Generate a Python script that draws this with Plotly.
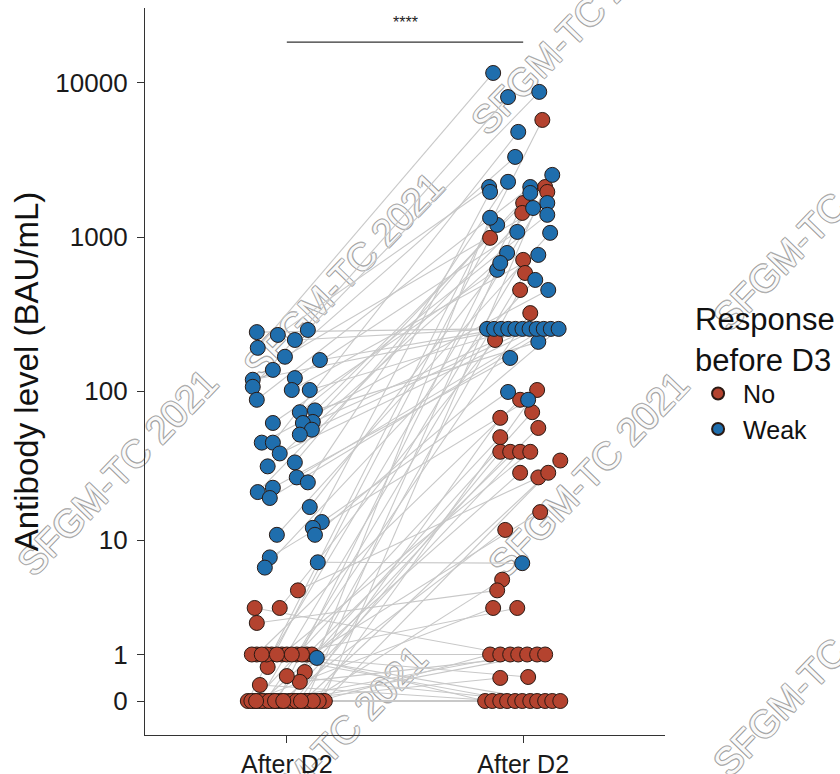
import plotly.graph_objects as go

# ---------------- data ----------------
categories = ["After D2", "After D2"]
cat_pos = [1, 2]
tick_values = [0, 1, 10, 100, 1000, 10000]
tick_labels = ["0", "1", "10", "100", "1000", "10000"]

# "Weak" responders before D3 (each index = one patient, paired)
weak_before = [251, 243, 233, 216, 192, 168, 160, 138, 122, 119, 107, 102, 102, 88, 75,
               73, 63, 62, 62, 56, 52, 46, 46, 39, 34, 32, 27, 25, 23, 21.5, 19.6, 17,
               13.4, 12.2, 10.9, 10.9, 7.5, 6.9, 6.3, 0.9]
weak_before_jit = [0.089, -0.127, -0.038, 0.034, -0.123, -0.008, 0.140, -0.059, 0.034,
                   -0.144, -0.144, 0.021, 0.097, -0.127, 0.119, 0.055, 0.110, 0.068,
                   -0.059, 0.106, 0.055, -0.106, -0.059, -0.030, 0.034, -0.081, 0.042,
                   0.089, -0.059, -0.123, -0.072, 0.097, 0.148, 0.110, 0.119, -0.042,
                   -0.072, 0.131, -0.093, 0.127]
weak_after = [8750, 255, 2120, 255, 11600, 1670, 255, 3320, 1085, 255, 8100, 770, 255,
              2120, 210, 1400, 255, 2540, 616, 255, 1940, 456, 4820, 255, 1205, 793, 255,
              2290, 165, 1550, 255, 683, 99, 1970, 255, 1070, 88, 6.8, 530, 1340]
weak_after_jit = [0.068, -0.153, -0.144, -0.123, -0.127, 0.102, -0.093, -0.034, -0.025,
                  -0.063, -0.064, 0.064, -0.033, 0.030, 0.064, 0.102, -0.003, 0.123,
                  -0.110, 0.027, 0.030, 0.106, -0.021, 0.057, -0.110, -0.068, 0.087,
                  -0.064, -0.055, 0.042, 0.117, -0.097, -0.064, -0.140, 0.150, 0.114,
                  0.021, -0.004, 0.051, -0.140]

# "No" responders before D3
no_before = [0, 0, 1, 0, 0, 0.66, 0, 1, 0, 0, 3.0, 0, 1, 0, 0, 1, 0, 0, 0.54, 0, 1, 0, 0,
             4.2, 0, 1, 0, 0, 2.2, 0, 1, 0, 1, 3.0, 0, 1, 0, 0.33, 0, 1, 1, 0, 0.27, 0, 1,
             0, 0.45, 0, 1, 0, 0]
no_before_jit = [-0.165, 0.150, -0.064, -0.040, 0.080, -0.081, -0.120, 0.042, 0.010,
                 -0.090, -0.030, 0.120, -0.127, -0.060, 0.050, 0.085, -0.140, 0.030,
                 0.076, -0.010, -0.021, 0.161, -0.105, 0.047, 0.070, 0.106, -0.025,
                 0.100, -0.127, -0.150, 0.0, 0.135, -0.148, -0.136, -0.075, 0.064,
                 0.020, 0.055, -0.050, -0.085, 0.021, -0.130, -0.114, 0.040, -0.106,
                 0.090, 0.0, -0.015, -0.042, 0.110, 0.060]
no_after = [5760, 2120, 1970, 1670, 1440, 993, 715, 588, 456, 323, 216, 102, 88, 73, 67,
            57.5, 50, 40, 40, 40, 40, 35, 29, 27, 29, 15.7, 11.8, 5.1, 4.2, 3.0, 3.0, 1, 1,
            1, 1, 1, 1, 1, 0.41, 0.43, 0, 0, 0, 0, 0, 0, 0, 0, 0, 0, 0]
no_after_jit = [0.081, 0.093, 0.102, 0.0, -0.004, -0.140, 0.0, 0.008, -0.013, 0.030,
                -0.119, 0.059, -0.013, 0.038, -0.097, 0.064, -0.097, -0.097, -0.055,
                -0.013, 0.030, 0.157, -0.013, 0.064, 0.106, 0.072, -0.076, -0.089,
                -0.110, -0.127, -0.025, -0.140, -0.097, -0.055, -0.021, 0.017, 0.059,
                0.093, -0.097, 0.021, -0.161, -0.131, -0.097, -0.068, -0.034, -0.004,
                0.030, 0.059, 0.093, 0.123, 0.157]

group_names = ["No", "Weak"]
group_colors = ["#B4432F", "#1F6EAD"]
watermark = "SFGM-TC 2021"

# --------------- figure ---------------
groups = [
    (no_before, no_before_jit, no_after, no_after_jit),
    (weak_before, weak_before_jit, weak_after, weak_after_jit),
]

# pseudo-log scale: plot value + 1 on a log axis
def shift(vals):
    return [v + 1 for v in vals]

fig = go.Figure()

# connecting lines
lx, ly = [], []
for b, bj, a, aj in groups:
    for i in range(len(b)):
        lx += [cat_pos[0] + bj[i], cat_pos[1] + aj[i], None]
        ly += [b[i] + 1, a[i] + 1, None]
fig.add_trace(go.Scatter(x=lx, y=ly, mode="lines",
                         line=dict(color="rgb(200,200,200)", width=1.1),
                         hoverinfo="skip", showlegend=False))

for (b, bj, a, aj), name, col in zip(groups, group_names, group_colors):
    xs = [cat_pos[0] + j for j in bj] + [cat_pos[1] + j for j in aj]
    ys = shift(b) + shift(a)
    fig.add_trace(go.Scatter(
        x=xs, y=ys, mode="markers", name=name,
        marker=dict(size=15, color=col, line=dict(color="#2a1a14", width=1))))

# watermark texts (paper coords)
wm_pos = [(0.815, 0.972), (0.377, 0.636), (-0.058, 0.365), (0.848, 0.362),
          (0.345, -0.015), (1.280, 0.702), (1.280, 0.089)]
outline = ("1px 1px 0 rgba(150,150,150,0.75), -1px -1px 0 rgba(150,150,150,0.75), "
           "1px -1px 0 rgba(150,150,150,0.75), -1px 1px 0 rgba(150,150,150,0.75)")
shapes = []
for (px, py) in wm_pos:
    shapes.append(dict(type="rect", xref="paper", yref="paper",
                       x0=px - 0.001, x1=px + 0.001, y0=py - 0.001, y1=py + 0.001,
                       line=dict(width=0), layer="below",
                       label=dict(text=watermark, textangle=-46,
                                  textposition="middle center",
                                  font=dict(size=38, color="rgba(250,250,250,1)",
                                            shadow=outline,
                                            family="Liberation Sans, Arial"))))

# significance bracket
shapes.append(dict(type="line", xref="x", yref="paper", x0=cat_pos[0], x1=cat_pos[1],
                   y0=0.953, y1=0.953, line=dict(color="#333333", width=1.2)))

fig.update_layout(
    width=840, height=774,
    template="none",
    font=dict(family="Liberation Sans, Arial", color="#111111"),
    paper_bgcolor="white", plot_bgcolor="rgba(0,0,0,0)",
    margin=dict(l=145, r=175, t=8, b=39, autoexpand=False),
    shapes=shapes,
    annotations=[dict(x=1.5, xref="x", y=0.965, yref="paper", text="****",
                      showarrow=False, yanchor="bottom",
                      font=dict(size=16, color="#222222"))],
    legend=dict(title=dict(text="Response<br>before D3", font=dict(size=31)),
                font=dict(size=25), x=1.054, xanchor="left", y=0.612, yanchor="top",
                bgcolor="rgba(0,0,0,0)", itemsizing="constant", itemwidth=40,
                tracegroupgap=0),
    xaxis=dict(range=[0.4, 2.6], tickmode="array", tickvals=cat_pos, ticktext=categories,
               showline=True, linecolor="#333333", linewidth=1.3, ticks="outside",
               ticklen=7, tickwidth=1.2, tickcolor="#333333", showgrid=False,
               zeroline=False, tickfont=dict(size=25, color="#1a1a1a")),
    yaxis=dict(type="log", range=[-0.22, 4.485], tickmode="array",
               tickvals=shift(tick_values), ticktext=tick_labels,
               showline=True, linecolor="#333333", linewidth=1.3, ticks="outside",
               ticklen=7, tickwidth=1.2, tickcolor="#333333", showgrid=False,
               zeroline=False, tickfont=dict(size=26, color="#1a1a1a"),
               ticklabelstandoff=4,
               title=dict(text="Antibody level (BAU/mL)", font=dict(size=33),
                          standoff=6)),
)

fig.write_html("out.html")
